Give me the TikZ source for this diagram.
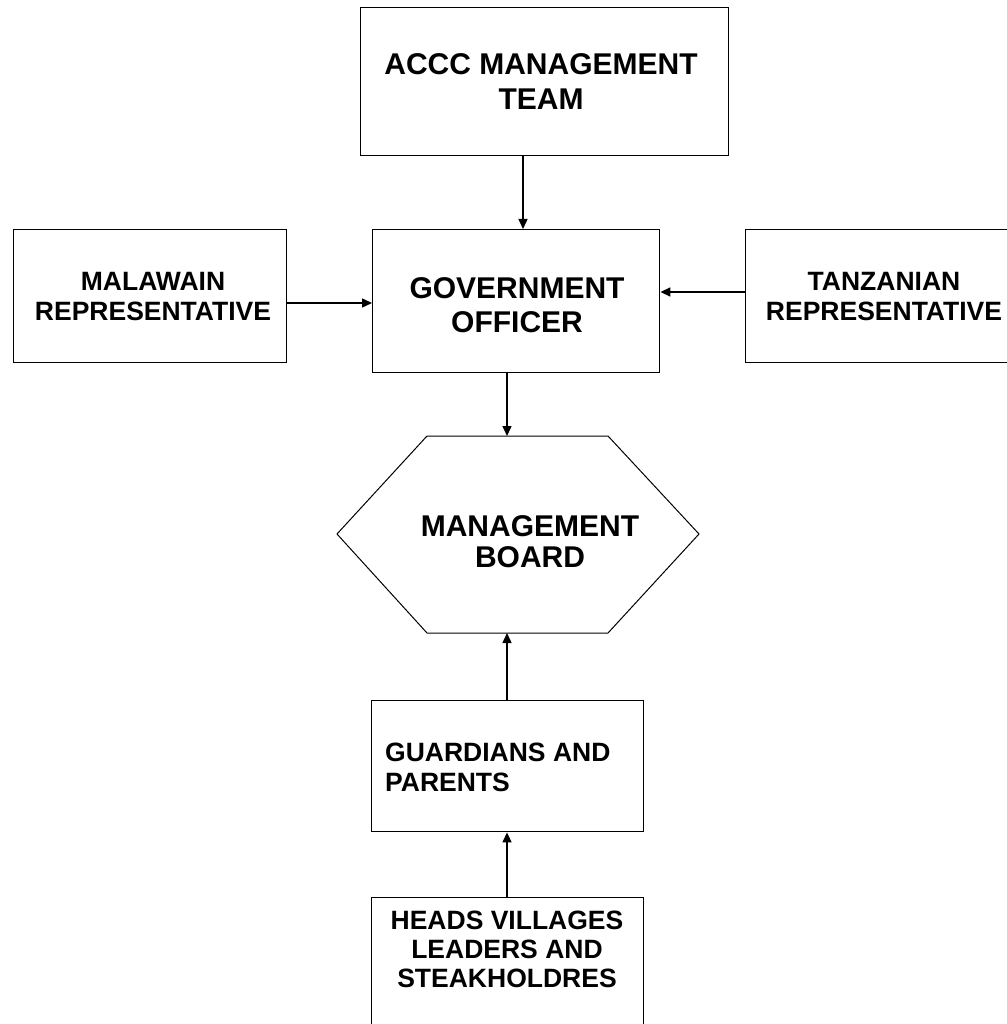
\documentclass[tikz,border=0pt]{standalone}
\usepackage{fontspec}
\setmainfont{Liberation Sans}
\usetikzlibrary{arrows.meta}
\begin{document}
\begin{tikzpicture}[x=1pt,y=-1pt,
  box/.style={draw, line width=1.4pt, inner sep=0pt, anchor=north west},
  bigt/.style={font=\fontsize{30}{#1}\selectfont\bfseries, align=center, inner sep=0pt},
  smallt/.style={font=\fontsize{26.5}{#1}\selectfont\bfseries, align=center, inner sep=0pt},
  arr/.style={line width=1.4pt, -{Triangle[length=10pt,width=9pt]}}]
\useasboundingbox (0,0) rectangle (1006,1024);
% boxes
\node[box, minimum width=368pt, minimum height=148pt] (accc) at (360,7) {};
\node[box, minimum width=287pt, minimum height=143pt] (gov) at (372,229) {};
\node[box, minimum width=273pt, minimum height=133pt] (mal) at (13,229) {};
\node[box, minimum width=275pt, minimum height=133pt] (tan) at (745,229) {};
\node[box, minimum width=272pt, minimum height=131pt] (gua) at (371,700) {};
\node[box, minimum width=272pt, minimum height=145pt] (heads) at (371,897) {};
% hexagon
\coordinate (h1) at (337,534);
\coordinate (h2) at (427,436);
\coordinate (h3) at (608,436);
\coordinate (h4) at (699,534);
\coordinate (h5) at (608,633);
\coordinate (h6) at (427,633);
\draw[line width=1pt] (h1) -- (h2) -- (h3) -- (h4) -- (h5) -- (h6) -- cycle;
% texts
\node[bigt=35] (accct) at (541,82) {ACCC MANAGEMENT\\TEAM};
\node[bigt=34] (govt) at (517,305) {GOVERNMENT\\OFFICER};
\node[smallt=30] (malt) at (153,297) {MALAWAIN\\REPRESENTATIVE};
\node[smallt=30] (tant) at (884,297) {TANZANIAN\\REPRESENTATIVE};
\node[bigt=31] (hext) at (530,542) {MANAGEMENT\\BOARD};
\node[smallt=30, align=left, anchor=west] (guat) at (385,767) {GUARDIANS AND\\PARENTS};
\node[smallt=29] (headst) at (507,949) {HEADS VILLAGES\\LEADERS AND\\STEAKHOLDRES};
% arrow guide coordinates
\coordinate (a1) at (523,0);
\coordinate (a2) at (507,0);
\coordinate (r1) at (0,303);
\coordinate (r2) at (0,292);
\coordinate (hextop) at (507,436);
\coordinate (hexbot) at (507,633);
% connectors
\draw[arr] (accc.south -| a1) -- (gov.north -| a1);
\draw[arr] (mal.east |- r1) -- (gov.west |- r1);
\draw[arr] (tan.west |- r2) -- (gov.east |- r2);
\draw[arr] (gov.south -| a2) -- (hextop);
\draw[arr] (gua.north -| a2) -- (hexbot);
\draw[arr] (heads.north -| a2) -- (gua.south -| a2);
\end{tikzpicture}
\end{document}
